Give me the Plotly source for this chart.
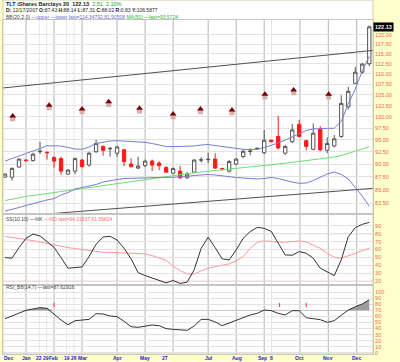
import plotly.graph_objects as go

# ---------------- data (weekly bars, index 0..52) ----------------
week = list(range(53))
opens = [87.43, 87.4, 89.4, 90.8, 90.7, 92.5, 92.4, 91.3, 91.1, 88.0,
         88.6, 90.8, 89.8, 92.5, 93.6, 93.1, 92.2, 92.9, 90.0, 89.2,
         89.7, 90.6, 90.2, 89.3, 88.2, 88.6, 87.3, 88.4, 90.8, 90.9,
         91.0, 89.1, 88.6, 90.0, 91.5, 92.55, 93.1, 92.3, 94.9, 95.7,
         92.2, 94.6, 98.3, 94.8, 93.0, 97.3, 92.8, 93.7, 95.7, 102.2,
         107.7, 110.4, 112.5]
highs = [88.14, 89.3, 91.2, 91.0, 92.3, 94.6, 92.5, 91.6, 91.5, 89.0,
         91.3, 91.0, 92.5, 95.0, 93.8, 93.5, 93.7, 93.1, 91.2, 91.5,
         90.9, 90.9, 90.6, 89.6, 89.3, 89.6, 88.4, 91.0, 91.4, 92.3,
         92.2, 89.3, 90.8, 91.2, 92.9, 93.2, 93.4, 97.1, 95.0, 100.2,
         93.9, 98.4, 99.3, 95.0, 98.5, 97.9, 95.5, 96.0, 104.9, 106.9,
         111.7, 112.7, 122.5]
lows = [87.31, 86.75, 89.3, 90.5, 90.5, 92.0, 90.9, 89.3, 87.9, 87.9,
        88.0, 89.3, 89.5, 92.3, 91.7, 91.5, 91.5, 89.6, 89.3, 89.0,
        89.4, 88.6, 88.8, 88.2, 88.0, 87.1, 87.1, 88.2, 90.3, 90.2,
        89.0, 88.7, 88.3, 89.8, 91.2, 91.8, 93.0, 92.0, 94.5, 93.0,
        91.9, 94.3, 95.5, 92.8, 92.8, 92.6, 92.2, 93.4, 95.4, 101.6,
        107.5, 110.0, 111.9]
closes = [88.02, 89.15, 91.0, 90.7, 92.0, 92.6, 92.3, 90.6, 88.6, 88.8,
          91.1, 89.5, 92.2, 94.2, 92.8, 93.2, 93.5, 90.5, 89.5, 89.6,
          90.6, 89.8, 89.7, 88.4, 89.1, 87.3, 88.0, 90.8, 90.85, 90.95,
          89.2, 89.0, 90.5, 91.0, 92.6, 92.65, 93.2, 94.9, 94.6, 93.3,
          93.6, 97.1, 95.7, 93.6, 96.4, 92.9, 94.2, 95.2, 103.0, 105.8,
          110.4, 112.4, 122.13]

bb_upper = [90.61, 91.12, 91.63, 92.14, 92.51, 93.17, 93.75, 93.79, 93.69, 93.38,
            93.06, 93.00, 93.48, 94.21, 94.53, 94.74, 94.80, 94.74, 94.59, 94.53,
            94.46, 94.21, 93.90, 93.59, 93.55, 93.55, 93.55, 93.69, 93.90, 94.00,
            93.79, 93.59, 93.38, 93.17, 93.00, 92.96, 93.00, 93.38, 93.79, 94.32,
            94.95, 95.58, 96.22, 96.98, 97.30, 97.45, 97.45, 97.45, 99.0, 102.87,
            106.35, 110.7, 114.35]
bb_lower = [81.07, 81.34, 81.71, 82.07, 82.44, 82.71, 83.09, 83.36, 84.01, 84.48,
            85.15, 85.43, 85.71, 86.00, 86.48, 86.77, 86.96, 87.15, 87.19, 87.35,
            87.39, 87.39, 87.39, 87.39, 87.39, 87.45, 87.55, 87.74, 87.84, 87.94,
            87.84, 87.64, 87.45, 87.35, 87.25, 87.15, 87.06, 87.15, 87.35, 87.15,
            86.77, 86.48, 86.23, 86.29, 86.77, 87.35, 88.03, 88.43, 87.94, 87.06,
            85.52, 83.83, 81.91]
ma50 = [82.99, 83.27, 83.55, 83.74, 83.92, 84.11, 84.29, 84.48, 84.67, 84.86,
        85.05, 85.24, 85.43, 85.62, 85.81, 86.00, 86.19, 86.38, 86.57, 86.77,
        86.96, 87.15, 87.35, 87.55, 87.74, 87.94, 88.13, 88.27, 88.43, 88.56,
        88.72, 88.86, 89.01, 89.15, 89.30, 89.43, 89.57, 89.71, 89.85, 90.01,
        90.17, 90.33, 90.49, 90.66, 90.82, 91.02, 91.22, 91.42, 91.73, 92.14,
        92.55, 93.06, 93.57]

stoch_k = [49.8, 49.0, 62.4, 74.1, 79.5, 77.0, 69.9, 62.8, 49.8, 36.4,
           37.3, 38.1, 51.1, 66.6, 75.8, 76.6, 72.0, 61.5, 48.2, 31.0,
           27.2, 23.9, 21.0, 18.0, 21.0, 17.2, 18.9, 34.4, 61.5, 75.4,
           62.4, 48.2, 46.9, 59.5, 74.1, 82.5, 87.9, 86.7, 82.9, 67.8,
           53.2, 52.8, 57.4, 55.3, 49.0, 36.4, 32.3, 27.2, 46.9, 76.2,
           87.5, 91.7, 94.2]
stoch_d = [76.6, 75.4, 73.7, 72.4, 71.2, 69.5, 67.4, 65.7, 64.1, 62.4,
           61.1, 59.9, 58.6, 57.4, 56.5, 56.5, 56.1, 56.1, 55.7, 55.3,
           54.4, 52.3, 49.8, 46.5, 39.0, 33.5, 29.3, 28.9, 33.1, 36.4,
           38.5, 40.2, 41.9, 45.6, 51.1, 61.5, 69.1, 70.8, 69.9, 69.5,
           69.1, 69.9, 70.8, 69.5, 65.7, 61.5, 55.3, 50.3, 49.0, 52.3,
           55.7, 58.6, 61.6]
rsi = [56.3, 61.3, 66.3, 70.1, 72.4, 74.6, 73.5, 63.5, 54.2, 46.4,
       53.0, 54.1, 55.2, 64.6, 64.1, 60.8, 59.7, 52.0, 43.1, 42.0,
       44.2, 45.9, 44.8, 39.8, 38.7, 37.6, 37.0, 44.2, 55.2, 55.2,
       50.9, 44.8, 49.2, 54.7, 58.6, 62.4, 65.2, 70.7, 69.6, 65.2,
       62.4, 69.6, 69.6, 58.0, 56.3, 54.7, 50.3, 53.0, 61.9, 70.7,
       76.2, 80.6, 87.6]

event_x = [1.1, 6.3, 11.0, 14.8, 19.2, 24.0, 27.9, 32.4, 37.1, 41.2, 46.2]
event_y = [100.16, 102.6, 101.7, 103.4, 101.9, 100.6, 101.7, 101.5, 105.1, 106.1, 105.1]
rsi_flag_x = [7, 39.2, 43]
rsi_flag_y = [79, 79, 79]

upper_trend_x = [-0.29, 52.53]
upper_trend_y = [106.6, 115.9]
lower_trend_x = [5.4, 52.53]
lower_trend_y = [80.48, 85.27]

price_ticks = [82.5, 85, 87.5, 90, 92.5, 95, 97.5, 100, 102.5, 105, 107.5,
               110, 112.5, 115, 117.5, 120]
stoch_ticks = [20, 30, 40, 50, 60, 70, 80, 90]
rsi_ticks = [0, 10, 20, 30, 40, 50, 60, 70, 80, 90, 100]
stoch_levels = [80, 20]
rsi_levels = [70, 30]

x_tick_pos = [0.47, 3.0, 4.9, 5.9, 6.9, 8.85, 9.9, 11.0, 16.0, 20.05, 22.9,
              29.05, 33.1, 36.8, 38.0, 42.1, 46.1, 50.2]
x_tick_text = ['Dec', 'Jan', '22', '29', 'Feb', '19', '26', 'Mar', 'Apr', 'May',
               '27', 'Jul', 'Aug', 'Sep', '8', 'Oct', 'Nov', 'Dec']
major_grid = [3, 7, 11, 16, 20, 24, 29, 33, 37, 42.1, 46.15, 50.2]
minor_grid = [4.9, 5.95, 8.8, 9.85, 38.05]

last_close = 122.13

# ---------------- figure ----------------
FONT = "Liberation Sans"
LBL = "#f0674a"
fig = go.Figure()

# candles: black group (close >= previous close) and red group
black_sel, red_sel = [], []
for i in week:
    if i == 0 or closes[i] >= closes[i - 1]:
        black_sel.append(i)
    else:
        red_sel.append(i)


def candles(sel, col):
    return go.Candlestick(
        x=[week[i] for i in sel], open=[opens[i] for i in sel],
        high=[highs[i] for i in sel], low=[lows[i] for i in sel],
        close=[closes[i] for i in sel],
        increasing=dict(line=dict(color=col, width=1), fillcolor='white'),
        decreasing=dict(line=dict(color=col, width=1), fillcolor=col),
        whiskerwidth=0, xaxis='x', yaxis='y', showlegend=False, hoverinfo='skip')


# overlays
fig.add_trace(go.Scatter(x=week, y=ma50, mode='lines', line=dict(color='#6ee06e', width=1),
                         yaxis='y', showlegend=False, hoverinfo='skip'))
fig.add_trace(go.Scatter(x=week, y=bb_upper, mode='lines', line=dict(color='#7b7bd4', width=1),
                         yaxis='y', showlegend=False, hoverinfo='skip'))
fig.add_trace(go.Scatter(x=week, y=bb_lower, mode='lines', line=dict(color='#7b7bd4', width=1),
                         yaxis='y', showlegend=False, hoverinfo='skip'))
fig.add_trace(go.Scatter(x=upper_trend_x, y=upper_trend_y, mode='lines',
                         line=dict(color='#505050', width=1), yaxis='y', showlegend=False, hoverinfo='skip'))
fig.add_trace(go.Scatter(x=lower_trend_x, y=lower_trend_y, mode='lines',
                         line=dict(color='#505050', width=1), yaxis='y', showlegend=False, hoverinfo='skip'))
fig.add_trace(candles(black_sel, '#555555'))
fig.add_trace(candles(red_sel, '#ff1a1a'))
fig.add_trace(go.Scatter(x=event_x, y=[v * 0.994 for v in event_y], mode='markers',
                         marker=dict(symbol='square', size=5, color='#d8b0b0'),
                         yaxis='y', showlegend=False, hoverinfo='skip'))
fig.add_trace(go.Scatter(x=event_x, y=event_y, mode='markers',
                         marker=dict(symbol='triangle-up', size=6, color='#7a0000'),
                         yaxis='y', showlegend=False, hoverinfo='skip'))

# stochastic panel
fig.add_trace(go.Scatter(x=week, y=stoch_d, mode='lines', line=dict(color='#ff9a9a', width=1),
                         yaxis='y2', showlegend=False, hoverinfo='skip'))
fig.add_trace(go.Scatter(x=week, y=stoch_k, mode='lines', line=dict(color='#333333', width=1),
                         yaxis='y2', showlegend=False, hoverinfo='skip'))

# RSI panel
fig.add_trace(go.Scatter(x=week, y=[rsi_levels[0]] * len(week), mode='lines', line=dict(width=0),
                         yaxis='y3', showlegend=False, hoverinfo='skip'))
fig.add_trace(go.Scatter(x=week, y=[max(v, rsi_levels[0]) for v in rsi], mode='lines',
                         line=dict(width=0), fill='tonexty', fillcolor='#9c9c9c',
                         yaxis='y3', showlegend=False, hoverinfo='skip'))
fig.add_trace(go.Scatter(x=week, y=rsi, mode='lines', line=dict(color='#333333', width=1),
                         yaxis='y3', showlegend=False, hoverinfo='skip'))
fig.add_trace(go.Scatter(x=rsi_flag_x, y=rsi_flag_y, mode='markers',
                         marker=dict(symbol='line-ns', size=3, line=dict(color='#ff3030', width=1)),
                         yaxis='y3', showlegend=False, hoverinfo='skip'))

shapes = []
# title box and outer frame
shapes.append(dict(type='rect', xref='paper', yref='paper', x0=0, x1=1, y0=0.9435, y1=1.0,
                   fillcolor='white', line=dict(width=0), layer='below'))
shapes.append(dict(type='rect', xref='paper', yref='paper', x0=0, x1=1, y0=0, y1=1.0,
                   line=dict(color='#cfcfa8', width=1), layer='above'))
for g in minor_grid:
    shapes.append(dict(type='line', xref='x', yref='paper', x0=g, x1=g, y0=0, y1=0.9435,
                       line=dict(color='#e6e6e6', width=1), layer='below'))
for g in major_grid:
    shapes.append(dict(type='line', xref='x', yref='paper', x0=g, x1=g, y0=0, y1=0.9435,
                       line=dict(color='#b4b4b4', width=1), layer='below'))
for lv in stoch_levels:
    shapes.append(dict(type='line', xref='paper', yref='y2', x0=0, x1=1, y0=lv, y1=lv,
                       line=dict(color='#ff9a9a', width=1), layer='below'))
for lv in rsi_levels:
    shapes.append(dict(type='line', xref='paper', yref='y3', x0=0, x1=1, y0=lv, y1=lv,
                       line=dict(color='#ff9a9a', width=1), layer='below'))

annotations = [
    dict(xref='paper', yref='paper', x=0.003, y=0.9879, xanchor='left', yanchor='middle',
         showarrow=False, font=dict(family=FONT, size=5.5, color='#222222'),
         text="<b>TLT iShares Barclays 20</b>  <b>122.13</b>  <span style='color:#1aa01a'>2.51  2.10%</span>"),
    dict(xref='paper', yref='paper', x=0.003, y=0.9709, xanchor='left', yanchor='middle',
         showarrow=False, font=dict(family=FONT, size=5, color='#222222'),
         text="<b>D:</b> 12/17/2007 <b>O:</b>87.43 <b>H:</b>88.14 <b>L:</b>87.31 <b>C:</b>88.02 <b>R:</b>0.83 <b>Y:</b>106.5877"),
    dict(xref='paper', yref='paper', x=0.003, y=0.9528, xanchor='left', yanchor='middle',
         showarrow=False, font=dict(family=FONT, size=5, color='#444444'),
         text="BB(20,2.0) <span style='color:#6b6bd0'>—upper —lower last=114.34792,81.90508</span> "
              "<span style='color:#2fb52f'>MA(50) —last=93.5724</span>"),
    dict(xref='paper', yref='paper', x=0.003, y=0.3814, xanchor='left', yanchor='middle',
         showarrow=False, font=dict(family=FONT, size=5, color='#444444'),
         text="SS(10,10) —%K <span style='color:#ff7070'>—%D last=94.21637,61.59824</span>"),
    dict(xref='paper', yref='paper', x=0.003, y=0.1884, xanchor='left', yanchor='middle',
         showarrow=False, font=dict(family=FONT, size=5, color='#444444'),
         text="RSI_B8(14,7) —last=87.62916"),
    dict(xref='paper', yref='y', x=1.0, y=2.08682, xanchor='left', yanchor='middle',
         showarrow=False, bgcolor='#000000', borderpad=1,
         font=dict(family=FONT, size=5.5, color='white'), text="<b>%.2f</b>" % last_close),
]
# x-axis labels as text just under the bottom panel
for pos, txt in zip(x_tick_pos, x_tick_text):
    annotations.append(dict(xref='x', yref='paper', x=pos, y=-0.0115, xanchor='center',
                            yanchor='middle', showarrow=False, text='<b>%s</b>' % txt,
                            font=dict(family=FONT, size=5, color='#1a1acc')))

axis_common = dict(showline=True, linecolor='#c4c4c4', linewidth=1, mirror=True,
                   zeroline=False, ticks='', fixedrange=True)

fig.update_layout(
    width=400, height=362,
    margin=dict(l=3, r=27, t=0, b=8),
    paper_bgcolor='#ffffcc', plot_bgcolor='white',
    showlegend=False, boxgap=0.32,
    font=dict(family=FONT, size=5.5),
    xaxis=dict(domain=[0, 1], range=[-0.2855, 52.53], anchor='y3',
               showticklabels=False,
               showgrid=False, rangeslider=dict(visible=False),
               showline=True, linecolor='#c4c4c4', mirror='all', zeroline=False, ticks=''),
    yaxis=dict(domain=[0.3941, 0.9435], type='log', range=[1.90553, 2.09342], side='right',
               anchor='x', tickmode='array', tickvals=price_ticks,
               ticktext=['%.2f' % v for v in price_ticks],
               tickfont=dict(family=FONT, size=5.5, color=LBL),
               showgrid=True, gridcolor='#e2e2e2', gridwidth=1, **axis_common),
    yaxis2=dict(domain=[0.1949, 0.3941], range=[15.3, 104.1], side='right', anchor='x',
                tickmode='array', tickvals=stoch_ticks, ticktext=[str(v) for v in stoch_ticks],
                tickfont=dict(family=FONT, size=5.5, color=LBL),
                showgrid=True, gridcolor='#e2e2e2', gridwidth=1, **axis_common),
    yaxis3=dict(domain=[0, 0.1949], range=[-2.15, 112.1], side='right', anchor='x',
                tickmode='array', tickvals=rsi_ticks, ticktext=[str(v) for v in rsi_ticks],
                tickfont=dict(family=FONT, size=5.5, color=LBL),
                showgrid=True, gridcolor='#e2e2e2', gridwidth=1, **axis_common),
    shapes=shapes, annotations=annotations,
)

fig.write_html("out.html",
               config={'displayModeBar': False, 'staticPlot': True},
               post_script="document.body.style.margin='0';document.body.style.padding='0';")
